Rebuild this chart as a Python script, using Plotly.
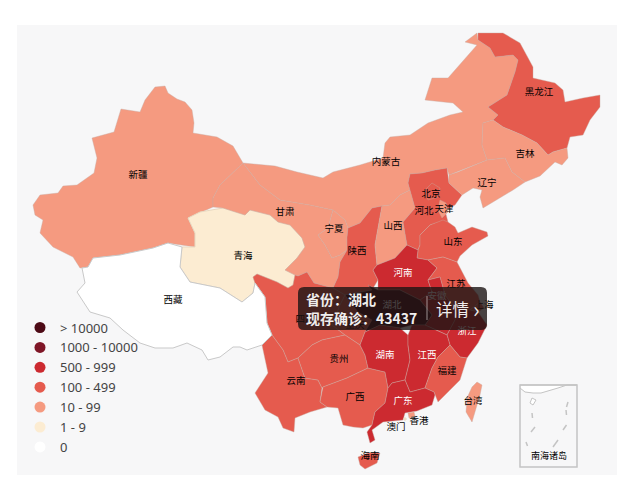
import plotly.graph_objects as go

# ---------- data ----------
PROVINCES = ["新疆","青海","甘肃","内蒙古","宁夏","陕西","山西","河北","北京","天津","黑龙江","吉林","辽宁",
             "山东","河南","江苏","安徽","湖北","上海","浙江","四川","重庆","云南","贵州","广西","湖南","江西",
             "福建","广东","海南","台湾","香港","澳门","西藏"]
CONFIRMED = [45, 3, 50, 40, 30, 120, 70, 150, 200, 70, 250, 50, 60,
             300, 700, 300, 600, 43437, 150, 650, 300, 300, 120, 110, 150, 650, 700,
             200, 800, 120, 20, 40, 8, 0]
BIN_LABELS = ["> 10000", "1000 - 10000", "500 - 999", "100 - 499", "10 - 99", "1 - 9", "0"]
BIN_MINIMA = [10001, 1000, 500, 100, 10, 1, 0]
BIN_COLORS = ["#4d0a16", "#7f1627", "#cc2a30", "#e55b4e", "#f59a80", "#fcecd2", "#ffffff"]

OUTLINES = {
 "新疆": [(155,87),(165,86),(168,93),(177,99),(185,102),(192,110),(194,123),(193,133),(217,137),(233,146),(243,163),(233,173),(220,185),(213,198),(213,207),(188,218),(195,233),(195,247),(168,243),(153,248),(120,255),(93,258),(88,267),(80,268),(73,257),(53,247),(40,233),(43,220),(35,215),(33,205),(40,195),(58,193),(63,186),(77,185),(94,173),(97,158),(92,138),(114,132),(121,109),(140,112),(145,100)],
 "西藏": [(82,268),(88,267),(93,258),(120,255),(153,248),(168,243),(182,247),(180,267),(190,282),(220,288),(242,302),(253,293),(255,283),(265,297),(267,323),(272,335),(262,345),(247,350),(240,347),(233,347),(220,357),(208,360),(202,350),(187,343),(173,348),(155,348),(140,343),(123,330),(110,318),(90,312),(77,292),(85,283)],
 "青海": [(188,218),(195,233),(195,247),(182,247),(180,267),(190,282),(220,288),(242,302),(253,293),(255,283),(253,277),(257,274),(277,282),(288,288),(293,285),(295,275),(285,270),(297,258),(305,247),(302,238),(290,225),(278,222),(270,215),(250,210),(245,215),(223,208),(200,212)],
 "甘肃": [(243,163),(233,173),(220,185),(213,198),(213,207),(223,208),(245,215),(250,210),(270,215),(278,222),(290,225),(302,238),(305,247),(297,258),(285,270),(295,275),(298,276),(307,272),(314,283),(333,288),(338,277),(340,262),(347,250),(340,255),(332,258),(325,245),(318,235),(328,228),(333,210),(310,205),(280,200),(260,185)],
 "内蒙古": [(243,163),(275,166),(297,172),(323,178),(333,172),(360,165),(383,158),(385,143),(390,137),(410,135),(428,123),(450,115),(463,112),(453,103),(425,100),(432,78),(448,78),(458,67),(477,45),(465,42),(477,33),(478,40),(490,48),(495,57),(513,55),(518,60),(515,72),(507,95),(488,107),(498,115),(493,120),(483,123),(482,145),(487,160),(458,172),(449,175),(447,168),(435,170),(422,173),(410,174),(408,183),(410,190),(400,195),(390,205),(382,206),(372,208),(360,223),(348,228),(345,220),(333,210),(310,205),(280,200),(260,185)],
 "宁夏": [(333,210),(345,220),(348,228),(347,237),(347,250),(340,255),(332,258),(325,245),(318,235),(328,228)],
 "陕西": [(382,206),(372,208),(360,223),(348,228),(347,237),(347,250),(340,262),(338,277),(333,288),(345,295),(372,290),(378,280),(373,270),(377,265),(375,245),(378,228)],
 "山西": [(382,206),(378,228),(375,245),(377,265),(395,258),(407,245),(403,222),(415,208),(410,190),(400,195),(390,205)],
 "河北": [(410,174),(422,173),(435,170),(447,168),(449,183),(462,195),(455,205),(445,210),(448,222),(440,222),(430,225),(420,235),(420,245),(418,250),(407,245),(403,222),(415,208),(408,183)],
 "北京": [(425,190),(432,183),(440,188),(438,197),(428,200)],
 "天津": [(440,200),(446,203),(448,212),(442,218),(438,210)],
 "黑龙江": [(478,33),(503,33),(520,43),(533,67),(533,78),(555,83),(563,90),(565,102),(583,98),(600,95),(600,107),(590,120),(583,135),(570,137),(567,148),(553,152),(548,155),(537,143),(522,135),(503,127),(493,120),(498,115),(488,107),(507,95),(515,72),(518,60),(513,55),(495,57),(490,48),(478,40)],
 "吉林": [(483,123),(493,120),(503,127),(522,135),(537,143),(548,155),(553,152),(567,148),(568,158),(562,165),(555,162),(540,176),(525,182),(512,172),(505,158),(487,160),(482,145)],
 "辽宁": [(458,172),(487,160),(505,158),(512,172),(525,182),(513,190),(493,202),(483,208),(480,197),(482,190),(473,188),(462,195),(449,183),(449,175)],
 "山东": [(430,225),(443,220),(448,222),(455,227),(458,233),(472,227),(487,232),(488,236),(472,245),(460,256),(457,262),(443,257),(428,260),(417,258),(418,250),(420,245),(420,235)],
 "河南": [(377,265),(395,258),(407,245),(418,250),(417,258),(428,260),(437,268),(428,280),(432,292),(420,300),(400,290),(378,290),(378,280),(373,270)],
 "江苏": [(428,260),(443,257),(457,262),(462,272),(468,283),(478,295),(480,302),(470,310),(458,307),(452,305),(445,295),(440,277),(428,280),(437,268)],
 "安徽": [(440,277),(445,295),(452,305),(458,307),(455,320),(447,335),(432,328),(425,325),(432,315),(420,300),(432,292),(428,280)],
 "湖北": [(368,285),(378,290),(400,290),(420,300),(432,315),(425,325),(412,325),(400,328),(380,325),(365,332),(355,315),(345,295),(372,290)],
 "上海": [(470,310),(480,302),(484,308),(478,312)],
 "浙江": [(458,307),(470,310),(478,312),(487,325),(478,343),(467,358),(460,357),(450,345),(447,335),(455,320)],
 "四川": [(255,283),(253,277),(257,274),(277,282),(288,288),(293,285),(295,275),(298,276),(307,272),(314,283),(333,288),(345,295),(340,305),(332,325),(345,335),(322,340),(312,345),(298,358),(288,362),(283,350),(272,335),(267,323),(265,297)],
 "重庆": [(345,295),(358,312),(372,320),(365,332),(360,345),(345,335),(332,325),(340,305)],
 "云南": [(272,335),(283,350),(288,362),(298,358),(305,378),(318,380),(322,388),(320,402),(327,407),(310,412),(295,418),(294,432),(283,428),(278,417),(265,410),(255,393),(268,373),(265,357),(262,345)],
 "贵州": [(298,358),(312,345),(322,340),(345,335),(360,345),(365,355),(368,368),(347,378),(323,387),(322,388),(318,380),(305,378)],
 "广西": [(323,387),(347,378),(368,368),(385,372),(388,388),(385,403),(375,412),(372,425),(363,428),(353,427),(343,425),(338,408),(327,407),(320,402)],
 "湖南": [(365,332),(380,325),(400,328),(408,335),(408,345),(410,360),(405,380),(392,383),(388,388),(385,372),(368,368),(365,355),(360,345)],
 "江西": [(408,335),(412,325),(425,325),(432,328),(447,335),(450,345),(438,357),(432,368),(425,388),(410,392),(405,380),(410,360),(408,345)],
 "福建": [(450,345),(460,357),(467,358),(460,380),(450,390),(438,402),(434,392),(425,388),(432,368),(438,357)],
 "广东": [(392,383),(405,380),(410,392),(425,388),(434,392),(435,395),(432,405),(417,411),(405,413),(403,420),(383,422),(372,430),(375,440),(370,443),(367,432),(372,425),(375,412),(385,403),(388,388)],
 "海南": [(358,457),(368,453),(380,453),(377,463),(365,469),(360,465)],
 "台湾": [(477,382),(482,385),(480,395),(472,422),(466,412),(467,398),(472,387)],
 "香港": [(408,413),(414,412),(415,416),(409,418)],
 "澳门": [(404,418),(406,418),(406,420),(404,420)],
}

LABEL_X = {"新疆":138,"西藏":173,"青海":243,"甘肃":285,"内蒙古":386,"宁夏":334,"陕西":357,"山西":393,"河北":424,"北京":431,"天津":444,"黑龙江":539,"吉林":525,"辽宁":487,
           "山东":453,"河南":403,"江苏":456,"安徽":437,"湖北":392,"上海":484,"浙江":467,"四川":305,"重庆":355,"云南":296,"贵州":339,"广西":355,"湖南":385,"江西":427,
           "福建":447,"广东":403,"海南":370,"台湾":473,"香港":419,"澳门":396}
LABEL_Y = {"新疆":176,"西藏":301,"青海":257,"甘肃":213,"内蒙古":163,"宁夏":230,"陕西":252,"山西":227,"河北":212,"北京":195,"天津":210,"黑龙江":93,"吉林":155,"辽宁":184,
           "山东":243,"河南":274,"江苏":285,"安徽":297,"湖北":306,"上海":306,"浙江":332,"四川":320,"重庆":326,"云南":382,"贵州":360,"广西":398,"湖南":356,"江西":356,
           "福建":372,"广东":402,"海南":457,"台湾":402,"香港":422,"澳门":428}
WHITE_LABELS = {"河南","湖南","江西","广东","浙江","湖北","安徽"}

INSET_DASHES = [[(532,413),(532.5,418)],[(535,427),(531,432)],[(526,442),(527.5,446)],[(558,440),(553,447)],
                [(568,402),(566.5,407)],[(566,410),(566.5,415)],[(566.5,425),(563,430)]]
INSET_ISLAND = [(532,398),(536,400),(533,405),(530,403)]
INSET_CAP = [(520,385),(577,385),(567,385),(558,388),(550,390),(541,393),(533,393),(525,392),(520,388)]

FONT = "Noto Sans CJK SC"

def bin_color(v):
    for lo, c in zip(BIN_MINIMA, BIN_COLORS):
        if v >= lo:
            return c
    return BIN_COLORS[-1]

fig = go.Figure()
for name, value in zip(PROVINCES, CONFIRMED):
    ring = OUTLINES[name] + [OUTLINES[name][0]]
    edge = "#c9c9c9" if value == 0 else ("#e8d8c0" if value < 10 else "rgba(200,170,160,0.4)")
    fig.add_trace(go.Scatter(x=[p[0] for p in ring], y=[p[1] for p in ring], mode="lines", fill="toself",
                             fillcolor=bin_color(value), line=dict(color=edge, width=1),
                             name=name, text=f"{name}: {value}", hoverinfo="text", showlegend=False))

# inset for the South China Sea
fig.add_shape(type="rect", x0=520, x1=577, y0=385, y1=467, line=dict(color="#c4c4c4", width=1.5), fillcolor="rgba(0,0,0,0)")
fig.add_trace(go.Scatter(x=[p[0] for p in INSET_CAP], y=[p[1] for p in INSET_CAP], mode="lines", fill="toself",
                         fillcolor="#ffffff", line=dict(color="#c4c4c4", width=1), hoverinfo="skip", showlegend=False))
fig.add_trace(go.Scatter(x=[p[0] for p in INSET_ISLAND + INSET_ISLAND[:1]], y=[p[1] for p in INSET_ISLAND + INSET_ISLAND[:1]],
                         mode="lines", fill="toself", fillcolor="#ffffff", line=dict(color="#c4c4c4", width=1), hoverinfo="skip", showlegend=False))
for d in INSET_DASHES:
    fig.add_trace(go.Scatter(x=[p[0] for p in d], y=[p[1] for p in d], mode="lines",
                             line=dict(color="#c4c4c4", width=1.5), hoverinfo="skip", showlegend=False))

# province names
for group, color in ((set(PROVINCES) - WHITE_LABELS, "#000000"), (WHITE_LABELS, "#ffffff")):
    names = [n for n in PROVINCES if n in group]
    fig.add_trace(go.Scatter(x=[LABEL_X[n] for n in names], y=[LABEL_Y[n] for n in names], text=names, mode="text",
                             textposition="middle center", textfont=dict(family=FONT, size=9.5, color=color),
                             hoverinfo="skip", showlegend=False))
fig.add_annotation(x=549, y=455, text="南海诸岛", showarrow=False, font=dict(family=FONT, size=9, color="#000000"))

# legend entries
for label, color in zip(BIN_LABELS, BIN_COLORS):
    fig.add_trace(go.Scatter(x=[None], y=[None], mode="markers", name=label,
                             marker=dict(symbol="circle", size=11, color=color, line=dict(width=0))))

# tooltip
fig.add_shape(type="path", layer="above", line=dict(width=0), fillcolor="rgba(28,20,20,0.8)",
              path="M 304 287 L 481 287 Q 487 287 487 293 L 487 324 Q 487 330 481 330 L 304 330 Q 298 330 298 324 L 298 293 Q 298 287 304 287 Z")
fig.add_shape(type="line", layer="above", x0=427, x1=427, y0=296, y1=320, line=dict(color="rgba(255,255,255,0.45)", width=1.2))
TIP = dict(showarrow=False, xanchor="left", font=dict(family=FONT, size=14, color="#f0eeee"))
fig.add_annotation(x=304, y=299, text="<b>省份：湖北</b>", **TIP)
fig.add_annotation(x=304, y=318, text="<b>现存确诊：43437</b>", **TIP)
fig.add_annotation(x=434, y=309, text="详情", showarrow=False, xanchor="left", font=dict(family=FONT, size=16.5, color="#f0eeee"))
fig.add_annotation(x=476, y=308, text="›", showarrow=False, font=dict(family=FONT, size=22, color="#f0eeee"))

fig.update_layout(
    width=640, height=500, autosize=False,
    margin=dict(l=17, r=23, t=25, b=25),
    paper_bgcolor="#ffffff", plot_bgcolor="#f7f7f8",
    xaxis=dict(range=[17, 617], visible=False, fixedrange=True),
    yaxis=dict(range=[475, 25], visible=False, fixedrange=True),
    legend=dict(x=0.005, y=0.361, xanchor="left", yanchor="top", bgcolor="rgba(0,0,0,0)", borderwidth=0,
                font=dict(family="Noto Sans", size=13, color="#444444"), itemclick=False, itemdoubleclick=False),
    showlegend=True,
)
fig.write_html("out.html", post_script="document.body.style.margin='0';", config=dict(displayModeBar=False))
